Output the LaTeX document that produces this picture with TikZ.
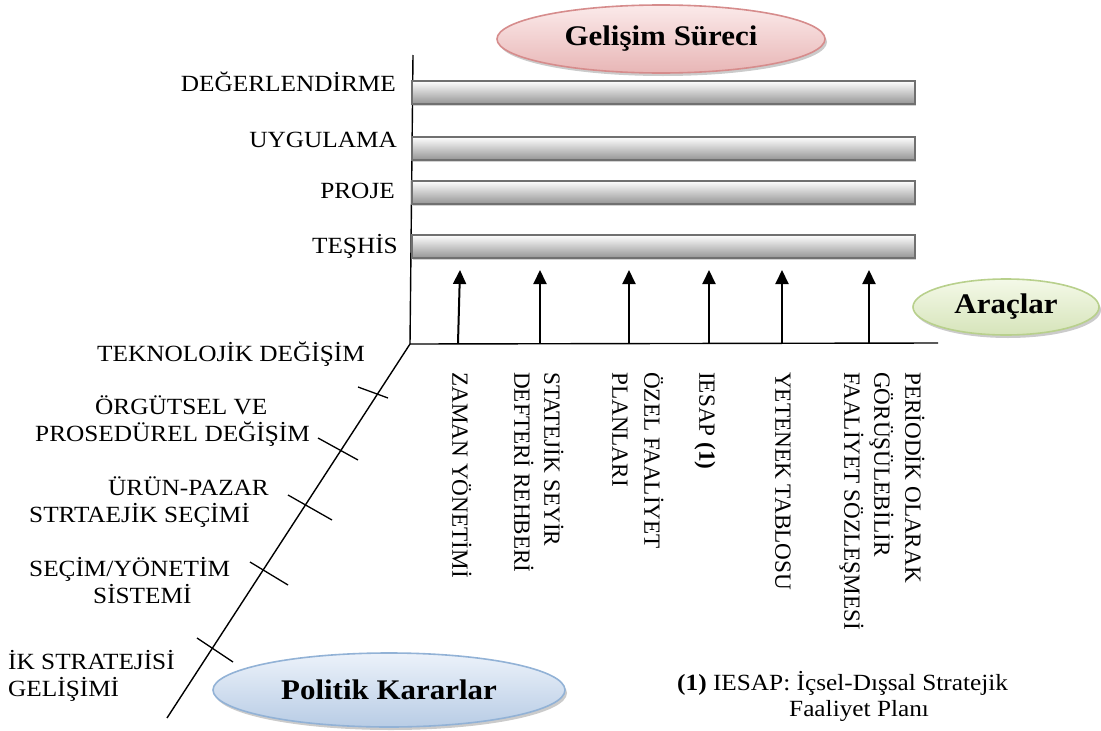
\documentclass[tikz,border=0pt]{standalone}
\usepackage{fontspec}
\setmainfont{Liberation Serif}[FakeStretch=1.09]
\newfontfamily\rotfont{Liberation Serif}
\usetikzlibrary{shapes.geometric,arrows.meta,shadows}

\definecolor{pinkTop}{RGB}{251,234,234}
\definecolor{pinkBot}{RGB}{232,182,182}
\definecolor{pinkLine}{RGB}{214,140,140}
\definecolor{greenTop}{RGB}{244,249,232}
\definecolor{greenBot}{RGB}{214,228,186}
\definecolor{greenLine}{RGB}{184,208,140}
\definecolor{blueTop}{RGB}{236,242,250}
\definecolor{blueBot}{RGB}{184,204,229}
\definecolor{blueLine}{RGB}{146,178,214}
\definecolor{barBot}{RGB}{150,150,150}
\definecolor{barLine}{RGB}{112,112,112}

\tikzset{
  lbl/.style={inner sep=0pt, font=\fontsize{23.2}{27}\selectfont},
  vlbl/.style={inner sep=0pt, rotate=-90, anchor=base west,
               font=\rotfont\fontsize{23.2}{27}\selectfont},
  titlebox/.style={ellipse, inner sep=0pt, line width=1.6pt,
               font=\fontsize{28.4}{30}\selectfont\bfseries,
               drop shadow={shadow xshift=2pt, shadow yshift=-3pt,
                            fill=black!45, opacity=0.45}},
  barbox/.style={rectangle, inner sep=0pt, anchor=north west,
               minimum width=503pt, minimum height=23pt,
               draw=barLine, line width=1.6pt,
               top color=white, bottom color=barBot,
               drop shadow={shadow xshift=1.5pt, shadow yshift=-2.5pt,
                            fill=black!35, opacity=0.5}},
  axisline/.style={line width=1.4pt},
  tickline/.style={line width=1.3pt},
  upArrow/.style={line width=2pt, -{Triangle[width=13pt,length=14pt]}}
}

\begin{document}
\begin{tikzpicture}[x=1pt, y=-1pt]
\path[use as bounding box] (0,0) rectangle (1101,731);

% axes
\coordinate (O)     at (410,344);
\coordinate (Vtop)  at (413,55);
\coordinate (Hend)  at (938,343);
\coordinate (Dend)  at (167,718);
\draw[axisline] (Vtop) -- (O) -- (Hend);
\draw[axisline] (O) -- (Dend);

% process bars
\node[barbox] (bar1) at (411,80)  {};
\node[barbox] (bar2) at (411,136) {};
\node[barbox] (bar3) at (411,180) {};
\node[barbox] (bar4) at (411,234) {};

% process labels
\node[lbl, anchor=base east] (deg) at (396,91)  {DEĞERLENDİRME};
\node[lbl, anchor=base east] (uyg) at (397,147) {UYGULAMA};
\node[lbl, anchor=base east] (pro) at (395,198) {PROJE};
\node[lbl, anchor=base east] (tes) at (398,253) {TEŞHİS};

% title ellipses
\node[titlebox, draw=pinkLine, top color=pinkTop, bottom color=pinkBot,
      minimum width=328pt, minimum height=68pt] (gelisim) at (661,39) {Gelişim Süreci};
\node[titlebox, draw=greenLine, top color=greenTop, bottom color=greenBot,
      minimum width=186pt, minimum height=56pt] (araclar) at (1006,307) {Araçlar};
\node[titlebox, draw=blueLine, top color=blueTop, bottom color=blueBot,
      minimum width=352pt, minimum height=74pt] (politik) at (389,690) {Politik Kararlar};

% tool arrows
\coordinate (a1b) at (458,343); \coordinate (a1t) at (460,270);
\coordinate (a2b) at (540,343); \coordinate (a2t) at (540,270);
\coordinate (a3b) at (629,343); \coordinate (a3t) at (629,270);
\coordinate (a4b) at (709,343); \coordinate (a4t) at (709,270);
\coordinate (a5b) at (782,343); \coordinate (a5t) at (782,270);
\coordinate (a6b) at (869,343); \coordinate (a6t) at (869,270);
\foreach \i in {1,...,6} { \draw[upArrow] (a\i b) -- (a\i t); }

% tool labels (read downwards)
\node[vlbl] (zaman)   at (452.3,372) {ZAMAN YÖNETİMİ};
\node[vlbl] (seyir1)  at (544.3,372) {STATEJİK SEYİR};
\node[vlbl] (seyir2)  at (514.3,372) {DEFTERİ REHBERİ};
\node[vlbl] (ozel1)   at (644.3,372) {ÖZEL FAALİYET};
\node[vlbl] (ozel2)   at (612.3,372) {PLANLARI};
\node[vlbl] (iesap)   at (699.3,372) {IESAP \textbf{(1)}};
\node[vlbl] (yetenek) at (775.3,372) {YETENEK TABLOSU};
\node[vlbl] (per1)    at (905.3,372) {PERİODİK OLARAK};
\node[vlbl] (per2)    at (874.3,372) {GÖRÜŞÜLEBİLİR};
\node[vlbl] (per3)    at (844.3,372) {FAALİYET SÖZLEŞMESİ};

% ticks on the policy axis
\draw[tickline] (358,387) -- (388,398);
\draw[tickline] (318,438) -- (358,460);
\draw[tickline] (288,495) -- (332,520);
\draw[tickline] (250,562) -- (288,585);
\draw[tickline] (197,638) -- (233,662);

% policy labels
\node[lbl, anchor=base west] (tek)   at (97,361)  {TEKNOLOJİK DEĞİŞİM};
\node[lbl, anchor=base west] (org1)  at (95,414)  {ÖRGÜTSEL VE};
\node[lbl, anchor=base west] (org2)  at (35,441)  {PROSEDÜREL DEĞİŞİM};
\node[lbl, anchor=base west] (urun1) at (108,495) {ÜRÜN-PAZAR};
\node[lbl, anchor=base west] (urun2) at (29,522)  {STRTAEJİK SEÇİMİ};
\node[lbl, anchor=base west] (sec1)  at (29,576)  {SEÇİM/YÖNETİM};
\node[lbl, anchor=base west] (sec2)  at (93,603)  {SİSTEMİ};
\node[lbl, anchor=base west] (ik1)   at (8,669)   {İK STRATEJİSİ};
\node[lbl, anchor=base west] (ik2)   at (8,696)   {GELİŞİMİ};

% footnote
\node[lbl, anchor=base west] (note1) at (677,690) {\textbf{(1)} IESAP: İçsel-Dışsal Stratejik};
\node[lbl, anchor=base west] (note2) at (789,716) {Faaliyet Planı};
\end{tikzpicture}
\end{document}
